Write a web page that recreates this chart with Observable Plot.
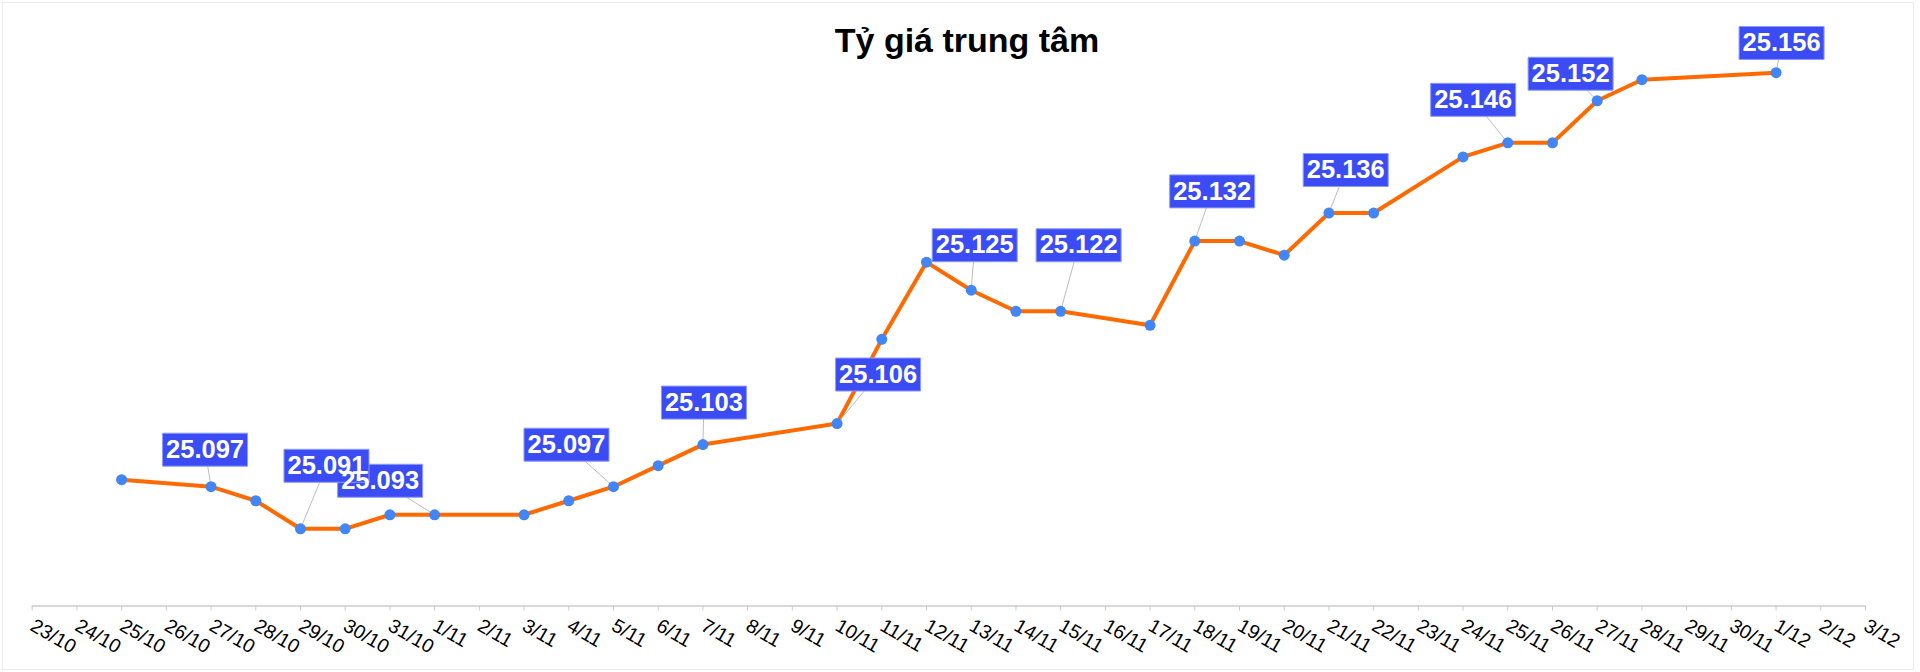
<!DOCTYPE html>
<html>
<head>
<meta charset="utf-8">
<script src="https://cdn.jsdelivr.net/npm/d3@7"></script>
<script src="https://cdn.jsdelivr.net/npm/@observablehq/plot@0.6"></script>
<style>
  html, body { margin: 0; padding: 0; background: #fff; }
  #wrap { position: relative; width: 1920px; height: 672px; overflow: hidden; font-family: "Liberation Sans", Arial, sans-serif; }
  #frame { position: absolute; left: 2px; top: 2px; width: 1910px; height: 666px; border: 1px solid #ececec; pointer-events: none; }
  #title { position: absolute; left: 7px; top: 21px; width: 1920px; text-align: center; font-size: 34px; font-weight: bold; color: #000; line-height: normal; }
  #chart { position: absolute; left: 0; top: 0; }
</style>
</head>
<body>
<div id="wrap">
  <div id="chart"></div>
  <div id="title">Tỷ giá trung tâm</div>
  <div id="frame"></div>
</div>
<script>
// ---- Data ----
const tickLabels = ["23/10","24/10","25/10","26/10","27/10","28/10","29/10","30/10","31/10",
  "1/11","2/11","3/11","4/11","5/11","6/11","7/11","8/11","9/11","10/11","11/11","12/11",
  "13/11","14/11","15/11","16/11","17/11","18/11","19/11","20/11","21/11","22/11","23/11",
  "24/11","25/11","26/11","27/11","28/11","29/11","30/11","1/12","2/12","3/12"];
const days = ["25/10","27/10","28/10","29/10","30/10","31/10","1/11","3/11","4/11","5/11",
  "6/11","7/11","10/11","11/11","12/11","13/11","14/11","15/11","17/11","18/11","19/11",
  "20/11","21/11","22/11","24/11","25/11","26/11","27/11","28/11","1/12"];
const rates = [25.098, 25.097, 25.095, 25.091, 25.091, 25.093, 25.093, 25.093, 25.095, 25.097,
  25.100, 25.103, 25.106, 25.118, 25.129, 25.125, 25.122, 25.122, 25.120, 25.132, 25.132,
  25.130, 25.136, 25.136, 25.144, 25.146, 25.146, 25.152, 25.155, 25.156];
// labelled days (in drawing order)
const labelDays = ["27/10","1/11","29/10","5/11","7/11","10/11","13/11","15/11","18/11","21/11","25/11","27/11","1/12"];
// label box offsets from the point, in pixels [dx, dy] (layout)
const labelOffsets = [[-6,-37],[-54.5,-34],[26,-63],[-47,-42],[1,-42],[41,-49],[3.5,-45],[18,-66],[17.4,-49.7],[16.8,-43],[-34.6,-43],[-26.6,-27],[5.5,-29.7]];

// ---- Layout ----
const W = 1920, H = 672, mL = 31.7, mR = 55, mT = 44.1, mB = 66.5;
const yDomain = [25.08, 25.16];

const parseDay = s => { const [d, m] = s.split("/").map(Number); return new Date(Date.UTC(2024, m - 1, d)); };
const tickDates = tickLabels.map(parseDay);
const xDomain = [tickDates[0], tickDates[tickDates.length - 1]];
const pxPerMs = (W - mL - mR) / (xDomain[1] - xDomain[0]);
const pxPerUnit = (H - mT - mB) / (yDomain[1] - yDomain[0]);

const data = days.map((d, i) => ({date: parseDay(d), value: rates[i], label: d}));
const byDay = new Map(data.map(d => [d.label, d]));
const labels = labelDays.map((d, i) => {
  const p = byDay.get(d);
  const [ox, oy] = labelOffsets[i];
  return {
    date: p.date, value: p.value,
    ldate: new Date(+p.date + ox / pxPerMs),
    lvalue: p.value - oy / pxPerUnit,
    text: p.value.toFixed(3)
  };
});

const boxSymbol = { draw(ctx) { ctx.rect(-42.5, -16.5, 85, 33); } };

const chart = Plot.plot({
  width: W, height: H,
  marginLeft: mL, marginRight: mR, marginTop: mT, marginBottom: mB,
  style: { fontFamily: '"Liberation Sans", Arial, sans-serif', background: "transparent", overflow: "visible" },
  x: { type: "utc", domain: xDomain },
  y: { domain: yDomain, axis: null },
  marks: [
    Plot.ruleY([yDomain[0]], { stroke: "#cccccc", strokeWidth: 1.5 }),
    Plot.axisX({
      ticks: tickDates,
      tickFormat: d => `${d.getUTCDate()}/${d.getUTCMonth() + 1}`,
      tickRotate: 30, tickSize: 5, tickPadding: 13,
      stroke: "#cccccc", fill: "#000", fontSize: 19.5, label: null
    }),
    Plot.line(data, { x: "date", y: "value", stroke: "#ff6a00", strokeWidth: 4, strokeLinejoin: "round", curve: "linear" }),
    Plot.link(labels, { x1: "date", y1: "value", x2: "ldate", y2: "lvalue", stroke: "#bdbdbd", strokeWidth: 1 }),
    Plot.dot(data, { x: "date", y: "value", r: 5.5, fill: "#4285f4", stroke: "none" }),
    Plot.dot(labels, { x: "ldate", y: "lvalue", symbol: boxSymbol, fill: "#3b4cf5", stroke: "#8c9bff", strokeWidth: 1 }),
    Plot.text(labels, { x: "ldate", y: "lvalue", text: "text", fill: "#fff", fontSize: 25.5, fontWeight: "bold", textAnchor: "middle", lineAnchor: "middle" })
  ]
});
document.getElementById("chart").appendChild(chart);
</script>
</body>
</html>
